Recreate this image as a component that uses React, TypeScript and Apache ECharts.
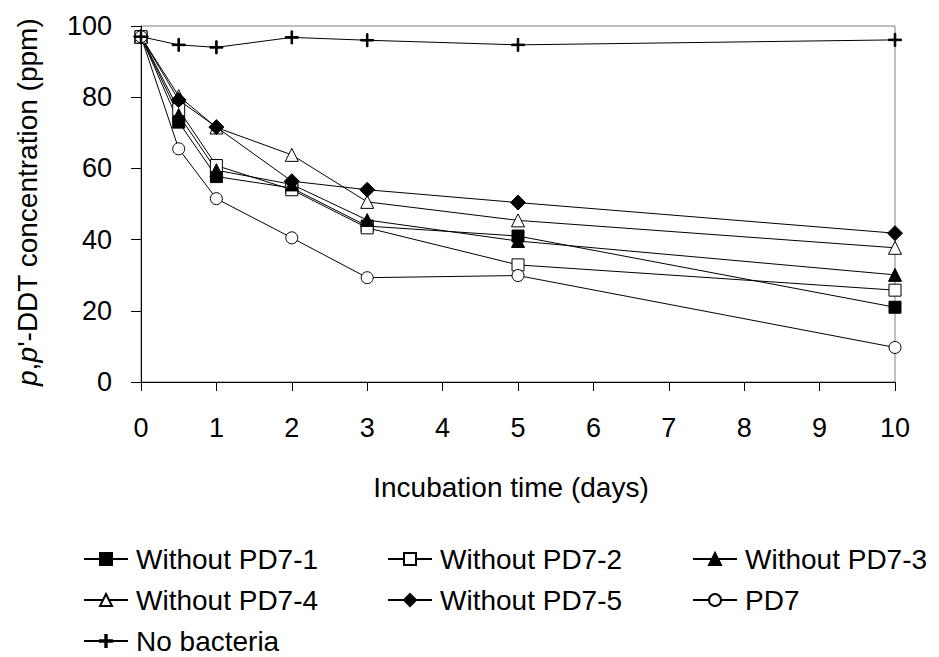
import React, { useEffect, useRef } from "react";
import * as echarts from "echarts";

const days = [0, 0.5, 1, 2, 3, 5, 10];
const xTicks = [0, 1, 2, 3, 4, 5, 6, 7, 8, 9, 10];
const yTicks = [0, 20, 40, 60, 80, 100];

const seriesNames = [
  "Without PD7-1",
  "Without PD7-2",
  "Without PD7-3",
  "Without PD7-4",
  "Without PD7-5",
  "PD7",
  "No bacteria",
];

const without1 = [97, 73, 57.7, 54.5, 43.8, 41, 21];
const without2 = [97, 76.5, 60.8, 54, 43.3, 32.9, 25.8];
const without3 = [97, 75, 59.5, 55.5, 45.5, 39.6, 30.1];
const without4 = [97, 80.3, 71.5, 63.8, 50.6, 45.4, 37.7];
const without5 = [97, 79.2, 71.6, 56.4, 54, 50.4, 41.8];
const pd7 = [97, 65.5, 51.5, 40.5, 29.3, 29.9, 9.7];
const noBacteria = [97, 94.7, 94, 96.8, 96, 94.7, 96.1];

const FONT = "Liberation Sans, Arial, Helvetica, sans-serif";
const PLUS = "path://M0,4.4H10V5.6H0Z M4.4,0H5.6V10H4.4Z";

function pairs(vals: number[]) {
  return days.map((d, i) => [d, vals[i]]);
}

export default function App() {
  const ref = useRef<HTMLDivElement>(null);
  useEffect(() => {
    if (!ref.current) return;
    const chart = echarts.init(ref.current, null, { renderer: "svg" });
    const mk = (
      name: string,
      vals: number[],
      symbol: string,
      size: number,
      filled: boolean
    ) => ({
      name,
      type: "line",
      data: pairs(vals),
      symbol,
      symbolSize: size,
      showAllSymbol: true,
      lineStyle: { color: "#000", width: 1 },
      itemStyle: {
        color: filled ? "#000" : "#fff",
        borderColor: "#000",
        borderWidth: 1,
        opacity: 1,
      },
      emphasis: { disabled: true },
    });
    const legendCommon = {
      orient: "vertical",
      itemWidth: 44,
      itemHeight: 15,
      itemGap: 11,
      padding: 0,
      textStyle: {
        fontSize: 28,
        fontFamily: FONT,
        color: "#000",
        lineHeight: 30,
        padding: [0, 0, 0, 3],
      },
      selectedMode: false,
    };
    chart.setOption({
      animation: false,
      backgroundColor: "#fff",
      grid: {
        left: 141,
        right: 44,
        top: 26,
        bottom: 275,
        show: true,
        borderColor: "#808080",
        borderWidth: 1,
        backgroundColor: "transparent",
      },
      xAxis: {
        type: "value",
        min: xTicks[0],
        max: xTicks[xTicks.length - 1],
        interval: 1,
        axisLine: { show: true, lineStyle: { color: "#000", width: 1 } },
        axisTick: { show: true, length: 9, lineStyle: { color: "#000" } },
        axisLabel: { fontSize: 27, fontFamily: FONT, color: "#000", margin: 32 },
        splitLine: { show: false },
      },
      yAxis: {
        type: "value",
        min: yTicks[0],
        max: yTicks[yTicks.length - 1],
        interval: 20,
        axisLine: { show: true, lineStyle: { color: "#000", width: 1 } },
        axisTick: { show: true, length: 10, lineStyle: { color: "#000" } },
        axisLabel: { fontSize: 27, fontFamily: FONT, color: "#000", margin: 29 },
        splitLine: { show: false },
      },
      legend: [
        { ...legendCommon, left: 83, top: 544, data: [seriesNames[0], seriesNames[3], seriesNames[6]] },
        { ...legendCommon, left: 387, top: 544, data: [seriesNames[1], seriesNames[4]] },
        { ...legendCommon, left: 692, top: 544, data: [seriesNames[2], seriesNames[5]] },
      ],
      graphic: [
        {
          type: "text",
          x: 27,
          y: 202,
          rotation: Math.PI / 2,
          style: {
            text: "{i|p},{i|p}'-DDT concentration (ppm)",
            fontSize: 28,
            fontFamily: FONT,
            fill: "#000",
            align: "center",
            verticalAlign: "middle",
            rich: {
              i: { fontStyle: "italic", fontSize: 28, fontFamily: FONT, fill: "#000" },
            },
          },
        },
        {
          type: "text",
          x: 511,
          y: 487,
          style: {
            text: "Incubation time (days)",
            fontSize: 28,
            fontFamily: FONT,
            fill: "#000",
            align: "center",
            verticalAlign: "middle",
          },
        },
      ],
      series: [
        mk(seriesNames[0], without1, "rect", 12, true),
        mk(seriesNames[1], without2, "rect", 12, false),
        mk(seriesNames[2], without3, "triangle", 13, true),
        mk(seriesNames[3], without4, "triangle", 13, false),
        mk(seriesNames[4], without5, "diamond", 15, true),
        mk(seriesNames[5], pd7, "circle", 12, false),
        mk(seriesNames[6], noBacteria, PLUS, 13, true),
      ],
    });
    return () => chart.dispose();
  }, []);
  return (
    <div
      ref={ref}
      style={{ position: "fixed", left: 0, top: 0, width: 939, height: 657, background: "#fff" }}
    />
  );
}
